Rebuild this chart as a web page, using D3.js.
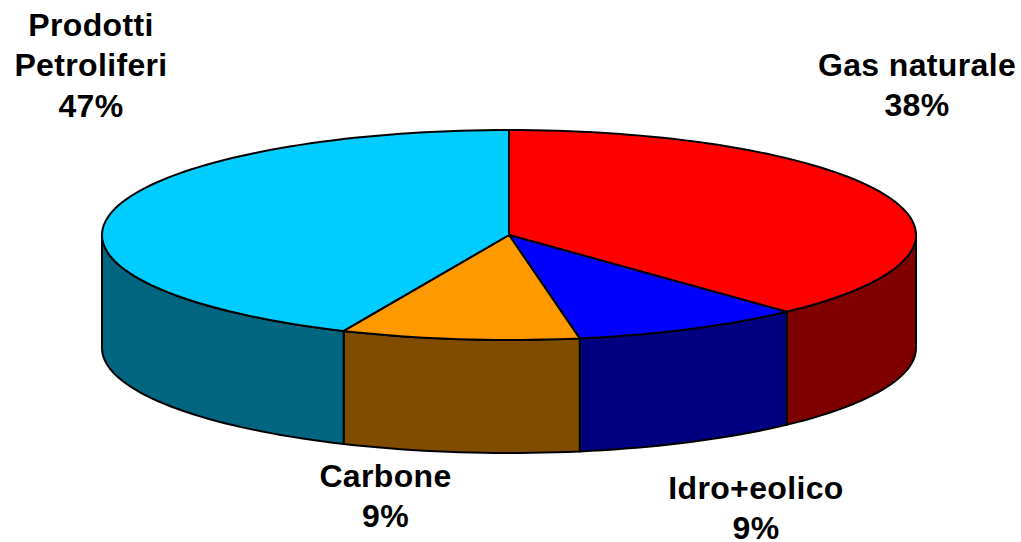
<!DOCTYPE html>
<html>
<head>
<meta charset="utf-8">
<script src="https://cdn.jsdelivr.net/npm/d3@7"></script>
<style>
  html, body { margin: 0; padding: 0; background: #fff; overflow: hidden; }
  svg { display: block; }
  text { font-family: "Liberation Sans", Arial, sans-serif; font-weight: bold; font-size: 32px; letter-spacing: 0.35px; fill: #000; text-anchor: middle; }
</style>
</head>
<body>
<svg id="chart"></svg>
<script>
var width = 1021;
var height = 542;

// slice sizes as drawn (the printed labels add up to 103, the slices don't follow them exactly)
var categories = ['Gas naturale', 'Idro+eolico', 'Carbone', 'Prodotti Petroliferi'];
var shares = [38.05, 9.17, 9.44, 43.34];
var topColors = ['#ff0000', '#0000ff', '#ff9900', '#00ccff'];
var sideColors = ['#800000', '#000080', '#804d00', '#006680'];

var labelLines = [['Gas naturale', '38%'], ['Idro+eolico', '9%'], ['Carbone', '9%'], ['Prodotti', 'Petroliferi', '47%']];
var labelPos = [[917, 76], [756, 499], [385.5, 487], [91, 36]];
var lineStep = 40.4;

var cx = 509, cy = 235, rx = 407, ry = 105, depth = 113;

var svg = d3.select('#chart').attr('width', width).attr('height', height);

// unit circle -> ellipse on the page
var x = d3.scaleLinear().domain([-1, 1]).range([cx - rx, cx + rx]);
var y = d3.scaleLinear().domain([-1, 1]).range([cy - ry, cy + ry]);

var pie = d3.pie().sort(null);
var slices = pie(shares);

function rimPoints(a0, a1) {
  var n = Math.max(2, Math.ceil((a1 - a0) / 0.03));
  return d3.range(n + 1).map(function(i) {
    var a = a0 + (a1 - a0) * i / n;
    return [x(Math.sin(a)), y(-Math.cos(a))];
  });
}

var line = d3.line();

// side walls first, only the front half of the cylinder shows
var front0 = Math.PI / 2, front1 = Math.PI * 1.5;
slices.forEach(function(s, i) {
  var a0 = Math.max(s.startAngle, front0);
  var a1 = Math.min(s.endAngle, front1);
  if (a1 <= a0) return;
  var upper = rimPoints(a0, a1);
  var lower = upper.slice().reverse().map(function(p) { return [p[0], p[1] + depth]; });
  svg.append('path')
    .attr('d', line(upper.concat(lower)) + 'Z')
    .attr('fill', sideColors[i])
    .attr('stroke', '#000')
    .attr('stroke-width', 2)
    .attr('stroke-linejoin', 'round');
});

// top face
svg.selectAll('.top')
  .data(slices)
  .enter()
  .append('path')
  .attr('class', 'top')
  .attr('d', function(s) {
    return line([[x(0), y(0)]].concat(rimPoints(s.startAngle, s.endAngle))) + 'Z';
  })
  .attr('fill', function(d, i) { return topColors[i]; })
  .attr('stroke', '#000')
  .attr('stroke-width', 2)
  .attr('stroke-linejoin', 'round');

labelLines.forEach(function(lines, i) {
  var t = svg.append('text').attr('x', labelPos[i][0]).attr('y', labelPos[i][1]);
  lines.forEach(function(l, j) {
    t.append('tspan').attr('x', labelPos[i][0]).attr('y', labelPos[i][1] + j * lineStep).text(l);
  });
});
</script>
</body>
</html>
